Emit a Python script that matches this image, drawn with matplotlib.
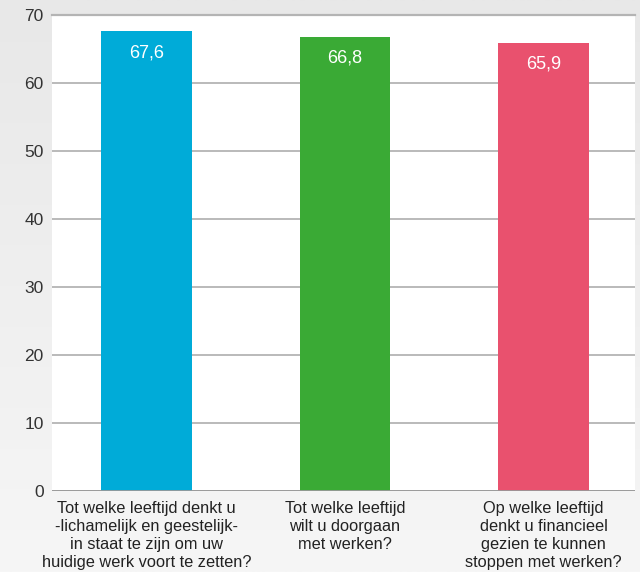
import matplotlib
matplotlib.use("Agg")
import matplotlib.pyplot as plt
import numpy as np
from matplotlib.colors import LinearSegmentedColormap

categories = [
    "Tot welke leeftijd denkt u\n-lichamelijk en geestelijk-\nin staat te zijn om uw\nhuidige werk voort te zetten?",
    "Tot welke leeftijd\nwilt u doorgaan\nmet werken?\n",
    "Op welke leeftijd\ndenkt u financieel\ngezien te kunnen\nstoppen met werken?",
]
values = [67.6, 66.8, 65.9]
value_labels = ["67,6", "66,8", "65,9"]
colors = ["#00abd8", "#3aaa35", "#e9516e"]
yticks = [0, 10, 20, 30, 40, 50, 60, 70]

plt.rcParams['font.family'] = ['Liberation Sans', 'DejaVu Sans']

fig = plt.figure(figsize=(6.4, 5.72), dpi=100)

# background gradient
bg = fig.add_axes([0, 0, 1, 1], zorder=-10)
grad = np.linspace(0, 1, 256).reshape(-1, 1)
cmap = LinearSegmentedColormap.from_list("bg", ["#e8e8e8", "#f6f6f6"])
bg.imshow(grad, aspect="auto", cmap=cmap, extent=[0, 1, 1, 0])
bg.set_axis_off()

ax = fig.add_axes([52/640, 1-491/572, (635-52)/640, (491-15)/572])
ax.set_facecolor("white")
x = np.arange(len(values))
ax.bar(x, values, width=0.458, color=colors, zorder=3)
ax.set_xlim(-0.476, 2.461)
ax.set_ylim(0, 70)
ax.set_yticks(yticks)
ax.set_yticklabels([str(t) for t in yticks], fontsize=12.5, color="#333333")
ax.yaxis.grid(True, color="#b4b4b4", linewidth=1.3, zorder=0)
ax.set_axisbelow(True)
ax.tick_params(axis="y", length=0, pad=6)
ax.tick_params(axis="x", length=0, pad=7.5)
ax.set_xticks(x)
ax.set_xticklabels(categories, fontsize=11.8, color="#222222", linespacing=1.24, va="top")
for s in ax.spines.values():
    s.set_visible(False)
ax.axhline(0, color="#999999", linewidth=1.3, zorder=4)
ax.axhline(70, color="#b4b4b4", linewidth=1.6, zorder=4, clip_on=False)

for xi, v, lab in zip(x, values, value_labels):
    ax.annotate(lab, (xi, v), xytext=(0, -15.5), textcoords="offset points",
                ha="center", va="center", color="white", fontsize=13, zorder=5)

fig.savefig("out.png", dpi=100)
